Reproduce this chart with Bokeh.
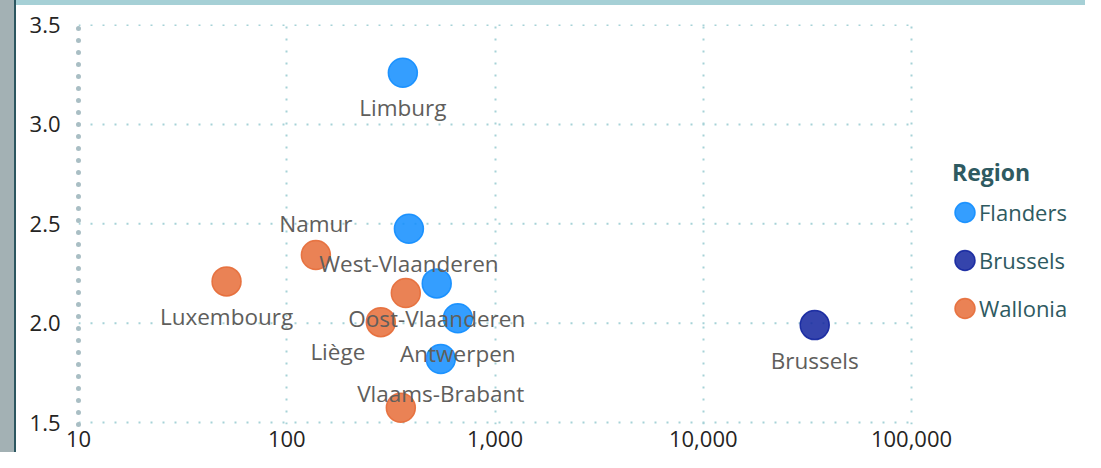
from bokeh.plotting import figure
from bokeh.models import (ColumnDataSource, FixedTicker, NumeralTickFormatter, Legend,
                          LegendItem, Range1d, Div)
from bokeh.layouts import row, column
from bokeh.core.properties import value
from bokeh.embed import file_html
from bokeh.resources import INLINE

# ---- data ----
provinces = ["Limburg", "West-Vlaanderen", "Oost-Vlaanderen", "Antwerpen", "Vlaams-Brabant",
             "Brussels",
             "Luxembourg", "Namur", "Hainaut", "Liège", "Waals-Brabant"]
regions = ["Flanders"] * 5 + ["Brussels"] + ["Wallonia"] * 5
x_values = [361, 386, 525, 663, 549, 34300, 51.4, 138, 373, 283, 353]
y_values = [3.26, 2.475, 2.20, 2.025, 1.82, 1.99, 2.21, 2.343, 2.152, 2.005, 1.574]
# where each data label sits relative to its point ("none" = hidden by overlap)
label_pos = ["below", "below", "below", "below", "below", "below",
             "below", "above", "none", "left-below", "none"]

region_order = ["Flanders", "Brussels", "Wallonia"]
region_colors = ["#118DFF", "#12239E", "#E66C37"]
x_ticks = [10, 100, 1000, 10000, 100000]
y_ticks = [1.5, 2.0, 2.5, 3.0, 3.5]

FONT = "Open Sans"
GRID = "#a6d2d7"
TEAL = "#2e5a61"

FIG_W, FIG_H = 1069, 447
LEFT, TOP, BOTTOM = 62, 19, 28
# the plot area runs on under the legend; the axis itself stops at 100,000
decade_px = 208.25
x_end = 10 ** (1 + (FIG_W - LEFT) / decade_px)

p = figure(width=FIG_W, height=FIG_H, x_axis_type="log",
           x_range=Range1d(10, x_end), y_range=Range1d(1.49, 3.5025),
           output_backend="svg", toolbar_location=None,
           min_border_left=LEFT, min_border_right=0, min_border_top=TOP,
           min_border_bottom=BOTTOM,
           background_fill_color="white", border_fill_color="white")
p.outline_line_color = None

# axes
p.xaxis.ticker = FixedTicker(ticks=x_ticks)
p.xaxis.formatter = NumeralTickFormatter(format="0,0")
p.yaxis.ticker = FixedTicker(ticks=y_ticks)
p.yaxis.formatter = NumeralTickFormatter(format="0.0")
for ax in (p.xaxis, p.yaxis):
    ax.major_tick_line_color = None
    ax.minor_tick_line_color = None
    ax.major_label_text_font = FONT
    ax.major_label_text_font_size = "22px"
    ax.major_label_text_color = "#252423"
p.xaxis.axis_line_color = None
p.xaxis.major_label_standoff = 0
p.yaxis.major_label_standoff = 12
p.yaxis.axis_line_color = "#a9bec4"
p.yaxis.axis_line_width = 5
p.yaxis.axis_line_dash = "0 12"
p.yaxis.axis_line_cap = "round"

# grid: vertical lines from the grid, horizontal ones limited to the axis extent
p.xgrid.ticker = FixedTicker(ticks=x_ticks[1:])
p.xgrid.grid_line_color = GRID
p.xgrid.grid_line_width = 2
p.xgrid.grid_line_dash = "2 10"
p.ygrid.grid_line_color = None
p.segment(x0=[x_ticks[0]] * len(y_ticks), x1=[x_ticks[-1]] * len(y_ticks),
          y0=y_ticks, y1=y_ticks, line_color=GRID, line_width=2, line_dash="2 10")

# points (circles of fixed screen size), one renderer per region
items = []
for reg, col in zip(region_order, region_colors):
    idx = [i for i, r in enumerate(regions) if r == reg]
    src = ColumnDataSource(dict(x=[x_values[i] for i in idx], y=[y_values[i] for i in idx]))
    r = p.ellipse("x", "y", width=29, height=29, width_units="screen", height_units="screen",
                  source=src, fill_color=col, fill_alpha=0.85,
                  line_color=col, line_alpha=0.9, line_width=1.5)
    items.append(LegendItem(label=reg, renderers=[r]))

# data labels
offsets = {"below": (0, 35), "above": (0, -31), "left-below": (-43, 29)}
lab = dict(x=[], y=[], t=[], dx=[], dy=[])
for xv, yv, name, pos in zip(x_values, y_values, provinces, label_pos):
    if pos == "none":
        continue
    lab["x"].append(xv)
    lab["y"].append(yv)
    lab["t"].append(name)
    lab["dx"].append(offsets[pos][0])
    lab["dy"].append(offsets[pos][1])
p.text("x", "y", text="t", x_offset="dx", y_offset="dy", source=ColumnDataSource(lab),
       text_font=value(FONT), text_font_size="22.5px", text_color="#605E5C",
       text_align="center", text_baseline="middle")

# legend inside the (extended) plot area, right of the axis extent
legend = Legend(items=items, location=(874, 92), orientation="vertical",
                title="Region", title_text_font=FONT, title_text_font_size="23px",
                title_text_font_style="bold", title_text_color=TEAL, title_standoff=0,
                glyph_width=25, glyph_height=48, label_height=20, spacing=0,
                label_standoff=2, padding=0, margin=0,
                label_text_font=FONT, label_text_font_size="22px", label_text_color=TEAL,
                border_line_color=None, background_fill_alpha=0)
p.add_layout(legend, "center")

# decorative report frame
left_strip = Div(width=16, height=FIG_H + 5, margin=0, styles={
    "background": "linear-gradient(to right, #a3b1b4 0px, #a3b1b4 14px, #2c5660 14px, #2c5660 16px)"})
top_bar = Div(width=FIG_W, height=5, margin=0, styles={"background": "#a6d0d6"})
layout = row(left_strip, column(top_bar, p, spacing=0), spacing=0)

open("out.html", "w").write(file_html(layout, INLINE))
